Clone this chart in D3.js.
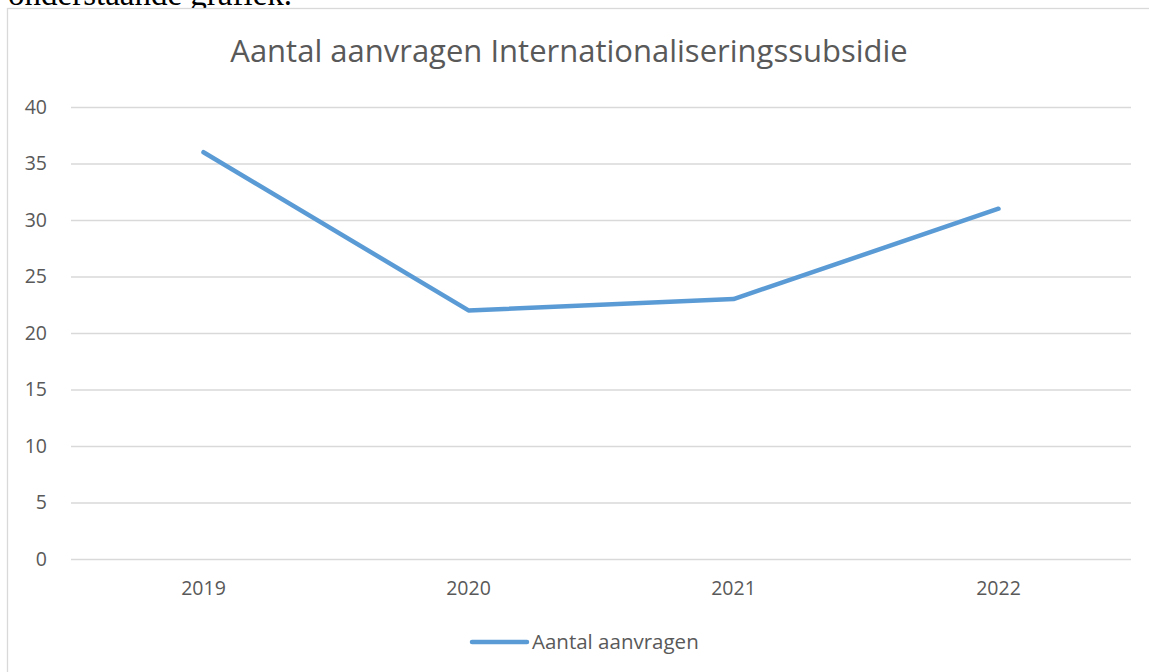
<!DOCTYPE html>
<html>
<head>
<meta charset="utf-8">
<script src="https://cdn.jsdelivr.net/npm/d3@7"></script>
<style>
  body { margin: 0; background: #fff; }
</style>
</head>
<body>
<div id="chart"></div>
<script>
// data
var years = ["2019", "2020", "2021", "2022"];
var aanvragen = [36, 22, 23, 31];
var yTicks = [0, 5, 10, 15, 20, 25, 30, 35, 40];
var seriesName = "Aantal aanvragen";
var chartTitle = "Aantal aanvragen Internationaliseringssubsidie";

var W = 1149, H = 672;
var margin = {top: 107, right: 18, bottom: 113, left: 71},
    width = W - margin.left - margin.right,
    height = H - margin.top - margin.bottom;

var font = "Open Sans, sans-serif";
var textColor = "#595959";
var labelSize = "19.5px";

var root = d3.select("#chart")
  .append("svg")
    .attr("width", W)
    .attr("height", H);

// running text of the document above the chart, cut off at the top
root.append("text")
  .attr("x", 8)
  .attr("y", 5)
  .style("font-family", "Liberation Serif, serif")
  .style("font-size", "33px")
  .style("fill", "#000")
  .text("onderstaande grafiek.");

// chart frame
root.append("rect")
  .attr("x", 7.5)
  .attr("y", 8.5)
  .attr("width", W + 10)
  .attr("height", H + 10)
  .style("fill", "#fff")
  .style("stroke", "#d9d9d9")
  .style("stroke-width", 1.3);

var svg = root.append("g")
  .attr("transform", "translate(" + margin.left + "," + margin.top + ")");

var x = d3.scaleBand()
  .domain(years)
  .range([0, width]);

var y = d3.scaleLinear()
  .domain([0, 40])
  .range([height, 0]);

// gridlines + y labels
var yAxis = svg.append("g")
  .call(d3.axisLeft(y).tickValues(yTicks).tickSize(-width).tickPadding(24));
yAxis.select(".domain").remove();
yAxis.selectAll("line")
  .style("stroke", "#d9d9d9")
  .style("stroke-width", 1.3);
yAxis.selectAll("text")
  .style("font-family", font)
  .style("font-size", labelSize)
  .style("fill", textColor);

// x labels
var xAxis = svg.append("g")
  .attr("transform", "translate(0," + height + ")")
  .call(d3.axisBottom(x).tickSize(0).tickPadding(22));
xAxis.select(".domain").remove();
xAxis.selectAll("text")
  .style("font-family", font)
  .style("font-size", labelSize)
  .style("fill", textColor);

// the line
var line = d3.line()
  .x(function(d, i) { return x(years[i]) + x.bandwidth() / 2; })
  .y(function(d) { return y(d); });

svg.append("path")
  .datum(aanvragen)
  .attr("d", line)
  .style("fill", "none")
  .style("stroke", "#5b9bd5")
  .style("stroke-width", 4.5)
  .style("stroke-linecap", "round")
  .style("stroke-linejoin", "round");

// title
root.append("text")
  .attr("x", 569)
  .attr("y", 62)
  .attr("text-anchor", "middle")
  .style("font-family", font)
  .style("font-size", "31px")
  .style("fill", textColor)
  .text(chartTitle);

// legend
var legend = root.append("g")
  .attr("transform", "translate(472,642)");
legend.append("line")
  .attr("x1", 0).attr("x2", 55)
  .attr("y1", 0).attr("y2", 0)
  .style("stroke", "#5b9bd5")
  .style("stroke-width", 4.5)
  .style("stroke-linecap", "round");
legend.append("text")
  .attr("x", 60)
  .attr("y", 7)
  .style("font-family", font)
  .style("font-size", "20.5px")
  .style("fill", textColor)
  .text(seriesName);
</script>
</body>
</html>
